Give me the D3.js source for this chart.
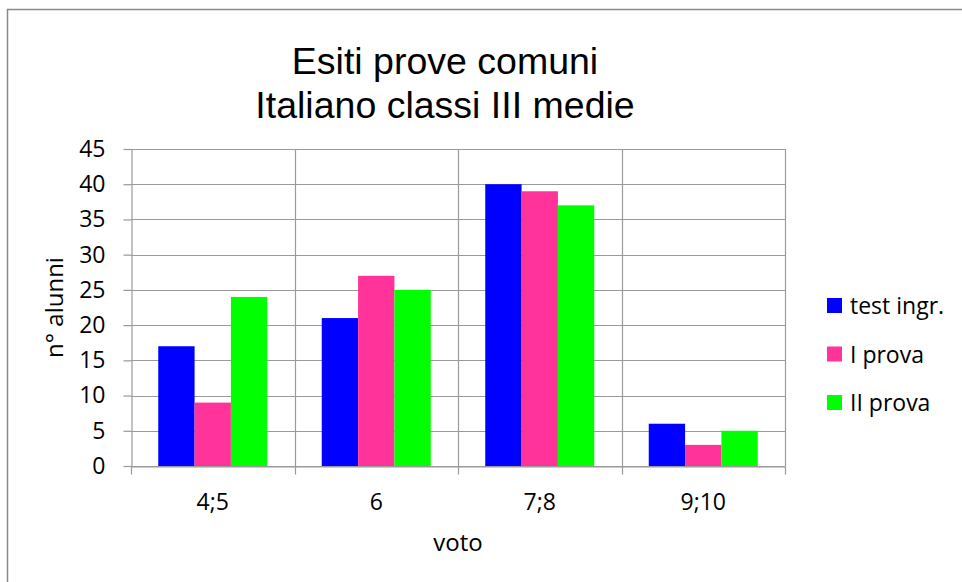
<!DOCTYPE html>
<html>
<head>
<meta charset="utf-8">
<script src="https://cdn.jsdelivr.net/npm/d3@7"></script>
<style>
  body { margin: 0; background: #fff; }
  svg text { fill: #000; }
</style>
</head>
<body>
<svg></svg>
<script>
// -------------------------------------------------------------
const width = 962;
const height = 582;

const categories = ['4;5', '6', '7;8', '9;10'];
const seriesNames = ['test ingr.', 'I prova', 'II prova'];
const seriesColors = ['#0000ff', '#ff3399', '#00ff00'];
const testIngr = [17, 21, 40, 6];
const primaProva = [9, 27, 39, 3];
const secondaProva = [24, 25, 37, 5];
const yTicks = [0, 5, 10, 15, 20, 25, 30, 35, 40, 45];
const titleLines = ['Esiti prove comuni', 'Italiano classi III medie'];

const series = [testIngr, primaProva, secondaProva];

const plot = { left: 131, right: 785, top: 149, bottom: 466 };
const labelFont = '"Open Sans", sans-serif';
const gridColor = '#9a9a9a';

const svg = d3.select('svg').attr('width', width).attr('height', height);

// chart frame
svg.append('rect')
  .attr('x', 7.5).attr('y', 9.5)
  .attr('width', 1000).attr('height', 1000)
  .attr('fill', 'none')
  .attr('stroke', '#8a8a8a')
  .attr('stroke-width', 1.5);

const x = d3.scaleBand().domain(categories).range([plot.left, plot.right]);
const xs = d3.scaleBand().domain(d3.range(series.length))
  .range([0, x.bandwidth()]).paddingInner(0).paddingOuter(0.75);
const y = d3.scaleLinear().domain([0, 45]).range([plot.bottom, plot.top]);

// -------------------------------------------------------------
// grid
const grid = svg.append('g').attr('stroke', gridColor).attr('stroke-width', 1.2);
grid.selectAll('.hg').data(yTicks).enter().append('line')
  .attr('x1', plot.left).attr('x2', plot.right)
  .attr('y1', d => Math.round(y(d)) + 0.5).attr('y2', d => Math.round(y(d)) + 0.5);
grid.selectAll('.vg').data(categories.slice(1).concat(['end'])).enter().append('line')
  .attr('x1', (d, i) => Math.round(plot.left + x.step() * (i + 1)) + 0.5)
  .attr('x2', (d, i) => Math.round(plot.left + x.step() * (i + 1)) + 0.5)
  .attr('y1', plot.top).attr('y2', plot.bottom);

// bars
series.forEach((vals, s) => {
  svg.append('g').selectAll('rect').data(vals).enter().append('rect')
    .attr('x', (d, i) => x(categories[i]) + xs(s))
    .attr('y', d => y(d))
    .attr('width', xs.bandwidth())
    .attr('height', d => y(0) - y(d))
    .attr('fill', seriesColors[s]);
});

// axes
const yAxis = svg.append('g')
  .attr('transform', `translate(${plot.left + 0.5},0)`)
  .call(d3.axisLeft(y).tickValues(yTicks).tickSize(8).tickSizeOuter(0).tickPadding(18));
const xAxis = svg.append('g')
  .attr('transform', `translate(0,${plot.bottom + 0.5})`)
  .call(d3.axisBottom(x).tickValues([]).tickSizeOuter(0));

// category boundary ticks on x axis
xAxis.selectAll('.bt').data(d3.range(categories.length + 1)).enter().append('line')
  .attr('x1', i => Math.round(plot.left + x.step() * i) + 0.5)
  .attr('x2', i => Math.round(plot.left + x.step() * i) + 0.5)
  .attr('y1', 0).attr('y2', 8);

[yAxis, xAxis].forEach(a => {
  a.selectAll('path, line').attr('stroke', gridColor).attr('stroke-width', 1.2);
  a.selectAll('text').style('font-family', labelFont).style('font-size', '23px').attr('fill', '#000');
});

// category labels
svg.append('g').selectAll('text').data(categories).enter().append('text')
  .attr('x', d => x(d) + x.bandwidth() / 2)
  .attr('y', 510)
  .attr('text-anchor', 'middle')
  .style('font-family', labelFont).style('font-size', '23px')
  .text(d => d);

// axis titles
svg.append('text')
  .attr('x', (plot.left + plot.right) / 2).attr('y', 551)
  .attr('text-anchor', 'middle')
  .style('font-family', labelFont).style('font-size', '24px')
  .text('voto');
svg.append('text')
  .attr('transform', `translate(63,${(plot.top + plot.bottom) / 2}) rotate(-90)`)
  .attr('text-anchor', 'middle')
  .style('font-family', labelFont).style('font-size', '24px')
  .text('n° alunni');

// title
svg.append('g').selectAll('text').data(titleLines).enter().append('text')
  .attr('x', 445).attr('y', (d, i) => 74 + i * 44)
  .attr('text-anchor', 'middle')
  .style('font-family', '"Liberation Sans", Arial, sans-serif').style('font-size', '37.5px')
  .text(d => d);

// legend
const legend = svg.append('g').selectAll('g').data(seriesNames).enter().append('g')
  .attr('transform', (d, i) => `translate(827,${298 + i * 48.5})`);
legend.append('rect').attr('width', 15).attr('height', 15)
  .attr('fill', (d, i) => seriesColors[i]);
legend.append('text').attr('x', 23).attr('y', 16)
  .style('font-family', labelFont).style('font-size', '23px')
  .text(d => d);
</script>
</body>
</html>
